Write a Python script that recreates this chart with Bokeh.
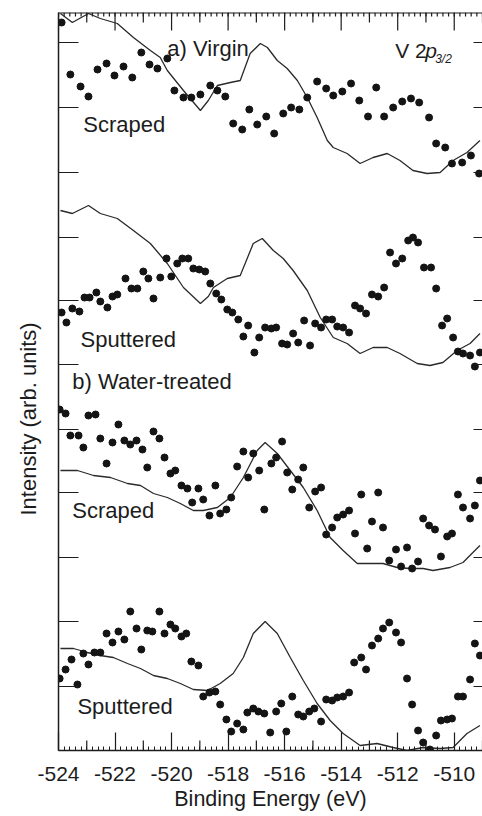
import numpy as np
from bokeh.plotting import figure
from bokeh.models import Range1d, LinearAxis, FixedTicker, Label, Title, Span
from bokeh.embed import file_html
from bokeh.resources import INLINE

# ---------------- data (binding energy in eV, intensity in arb. units, offset per spectrum) -------------
# a) Virgin, Scraped : measured points
a_scr_x = [-523.89, -523.58, -523.22, -522.94, -522.62, -522.30, -522.02, -521.70, -521.39, -521.07,
           -520.78, -520.50, -520.15, -519.90, -519.58, -519.30, -518.98, -518.63, -518.38, -518.10,
           -517.82, -517.50, -517.25, -516.97, -516.65, -516.37, -516.05, -515.77, -515.48, -515.20,
           -514.85, -514.53, -514.28, -513.96, -513.65, -513.36, -513.05, -512.76, -512.48, -512.16,
           -511.84, -511.53, -511.24, -510.89, -510.64, -510.32, -510.08, -509.72, -509.41, -509.12]
a_scr_y = [728, 676, 664, 654, 681, 687, 675, 684, 673, 698,
           686, 682, 692, 660, 653, 653, 656, 665, 660, 654,
           627, 621, 641, 626, 634, 617, 637, 643, 641, 653,
           669, 662, 655, 659, 667, 650, 634, 663, 634, 643,
           649, 652, 648, 633, 607, 603, 587, 588, 595, 577]
# a) Virgin, Scraped : reference curve
a_scr_ref_x = [-523.93, -523.51, -522.94, -522.52, -521.92, -521.35, -520.75, -520.40, -520.15, -519.58,
               -518.98, -518.70, -518.38, -517.92, -517.57, -517.22, -516.86, -516.61, -516.26, -515.91,
               -515.55, -515.20, -514.85, -514.49, -514.28, -513.79, -513.33, -512.87, -512.37, -511.92,
               -511.46, -510.96, -510.50, -510.04, -509.55, -509.09]
a_scr_ref_y = [737, 728, 737, 732, 727, 713, 700, 693, 680, 660,
               640, 650, 665, 668, 670, 697, 707, 703, 690, 682,
               670, 653, 633, 610, 603, 597, 587, 593, 597, 590,
               580, 577, 578, 590, 598, 610]

# a) Virgin, Sputtered : measured points
a_sput_x = [-523.89, -523.72, -523.51, -523.26, -523.08, -522.90, -522.66, -522.52, -522.27, -522.09,
            -521.92, -521.63, -521.42, -521.21, -521.00, -520.82, -520.64, -520.40, -520.18, -520.01,
            -519.80, -519.62, -519.41, -519.23, -519.02, -518.81, -518.63, -518.42, -518.24, -518.03,
            -517.85, -517.64, -517.46, -517.29, -517.07, -516.90, -516.69, -516.47, -516.30, -516.09,
            -515.91, -515.70, -515.52, -515.31, -515.10, -514.92, -514.71, -514.53, -514.32, -514.14,
            -513.93, -513.72, -513.51, -513.33, -513.12, -512.91, -512.69, -512.48, -512.27, -512.06,
            -511.84, -511.63, -511.46, -511.28, -511.07, -510.82, -510.64, -510.43, -510.25, -510.04,
            -509.87, -509.69, -509.44, -509.27, -509.09]
a_sput_y = [438, 428, 442, 439, 453, 453, 458, 449, 443, 454,
            456, 472, 462, 462, 479, 472, 452, 473, 492, 474,
            487, 492, 492, 482, 481, 479, 467, 457, 451, 441,
            438, 431, 414, 425, 398, 413, 423, 422, 423, 407,
            406, 417, 408, 430, 405, 427, 423, 431, 431, 424,
            423, 418, 445, 442, 437, 456, 454, 463, 498, 487,
            492, 510, 513, 508, 483, 483, 462, 425, 432, 413,
            399, 397, 395, 384, 398]
a_sput_ref_x = [-523.93, -523.51, -522.94, -522.52, -521.92, -521.35, -520.75, -520.15, -519.58, -518.98,
                -518.70, -518.52, -518.03, -517.57, -517.11, -516.79, -516.40, -516.05, -515.70, -515.20,
                -514.74, -514.28, -513.79, -513.33, -512.87, -512.37, -511.92, -511.31, -510.86, -510.40,
                -509.90, -509.44, -509.09]
a_sput_ref_y = [540, 537, 545, 537, 532, 520, 507, 487, 463, 447,
                454, 463, 472, 475, 507, 512, 500, 492, 480, 460,
                433, 413, 407, 397, 403, 403, 397, 387, 385, 388,
                400, 407, 417]

# b) Water-treated, Scraped
b_scr_x = [-523.96, -523.75, -523.58, -523.29, -523.12, -522.94, -522.69, -522.52, -522.30, -522.09,
           -521.88, -521.67, -521.46, -521.24, -521.03, -520.86, -520.64, -520.43, -520.25, -520.04,
           -519.87, -519.65, -519.44, -519.27, -519.05, -518.88, -518.66, -518.45, -518.28, -518.06,
           -517.89, -517.68, -517.46, -517.29, -517.11, -516.90, -516.72, -516.47, -516.30, -516.09,
           -515.91, -515.73, -515.52, -515.34, -515.13, -514.92, -514.71, -514.53, -514.32, -514.14,
           -513.93, -513.72, -513.51, -513.29, -513.08, -512.91, -512.69, -512.52, -512.30, -512.06,
           -511.88, -511.67, -511.49, -511.28, -511.10, -510.89, -510.68, -510.47, -510.25, -510.08,
           -509.87, -509.69, -509.44, -509.27, -509.09]
b_scr_y = [341, 337, 315, 315, 303, 335, 336, 312, 287, 308,
           326, 310, 306, 310, 301, 283, 319, 312, 293, 277,
           280, 265, 262, 248, 262, 251, 235, 265, 237, 241,
           253, 284, 299, 273, 297, 280, 241, 287, 293, 309,
           278, 261, 271, 283, 243, 259, 263, 216, 223, 233,
           236, 240, 217, 256, 202, 229, 258, 223, 190, 201,
           184, 203, 182, 189, 232, 225, 221, 194, 214, 217,
           256, 243, 232, 245, 270]
b_scr_ref_x = [-523.93, -523.33, -522.76, -522.16, -521.56, -521.10, -520.64, -520.15, -519.69, -519.23,
               -518.88, -518.38, -517.92, -517.46, -516.97, -516.69, -516.26, -515.80, -515.34, -514.85,
               -514.39, -513.93, -513.43, -512.98, -512.52, -512.02, -511.56, -511.10, -510.75, -510.15,
               -509.69, -509.34, -509.09]
b_scr_ref_y = [280, 280, 275, 273, 267, 265, 257, 253, 247, 240,
               240, 243, 253, 273, 300, 308, 297, 280, 263, 240,
               213, 200, 187, 187, 187, 183, 182, 182, 180, 183,
               188, 198, 205]

# b) Water-treated, Sputtered
b_sput_x = [-523.96, -523.75, -523.54, -523.33, -523.12, -522.94, -522.73, -522.52, -522.30, -522.09,
            -521.88, -521.67, -521.46, -521.24, -521.07, -520.86, -520.68, -520.43, -520.25, -520.04,
            -519.87, -519.65, -519.48, -519.30, -519.05, -518.88, -518.66, -518.45, -518.28, -518.06,
            -517.89, -517.68, -517.46, -517.32, -517.11, -516.93, -516.72, -516.51, -516.30, -516.12,
            -515.94, -515.73, -515.52, -515.34, -515.13, -514.95, -514.71, -514.53, -514.32, -514.14,
            -513.93, -513.72, -513.54, -513.29, -513.12, -512.91, -512.69, -512.52, -512.30, -512.06,
            -511.88, -511.67, -511.49, -511.28, -511.10, -510.86, -510.64, -510.47, -510.25, -510.08,
            -509.87, -509.69, -509.44, -509.27, -509.09]
b_sput_y = [72, 81, 91, 66, 97, 86, 98, 98, 117, 108,
            119, 111, 139, 122, 101, 120, 119, 139, 117, 126,
            122, 114, 117, 89, 85, 54, 58, 59, 46, 31,
            19, 27, 21, 38, 42, 39, 37, 18, 39, 47,
            19, 54, 36, 34, 39, 42, 29, 51, 50, 53,
            54, 58, 88, 93, 81, 105, 112, 122, 128, 118,
            108, 72, 46, 20, 8, 1, 15, 30, 31, 32,
            54, 54, 71, 107, 95]
b_sput_ref_x = [-523.93, -523.47, -522.98, -522.52, -522.06, -521.56, -521.10, -520.64, -520.15, -519.69,
                -519.23, -518.73, -518.28, -517.82, -517.46, -517.11, -516.69, -516.26, -515.80, -515.34,
                -514.85, -514.39, -513.93, -513.33, -512.73, -512.16, -511.67, -511.10, -510.50, -510.04,
                -509.55, -509.09]
b_sput_ref_y = [102, 102, 98, 95, 93, 87, 82, 75, 72, 67,
                61, 60, 67, 77, 93, 117, 129, 117, 93, 70,
                47, 30, 17, 5, 7, 3, 0, 3, 2, 3,
                17, 25]

# axis ticks
x_major = [-524, -522, -520, -518, -516, -514, -512, -510]
x_medium = [-523, -521, -519, -517, -515, -513, -511, -509]
x_minor = [float(round(v, 1)) for v in np.arange(-524, -508.95, 0.2)]
y_ticks = [64, 129, 193, 258, 321, 386, 450, 513, 578, 643, 708]
Y_MAX = 738
MAJ_TICK, MED_TICK, MIN_TICK = 18, 10, 4   # tick lengths (1 intensity unit = 1 px)

# annotations: (text, x, y)
labels = [("a) Virgin", -520.15, 702), ("Scraped", -523.12, 626), ("Sputtered", -523.22, 411),
          ("b) Water-treated", -523.51, 369), ("Scraped", -523.51, 240), ("Sputtered", -523.33, 44)]
species_pos = (-512.09, 700)

# ---------------- figure ----------------
FONT = "Liberation Sans"
INK = "#1c1c1c"

p = figure(width=482, height=816, output_backend="svg", toolbar_location=None,
           x_range=Range1d(-524, -509), y_range=Range1d(0, Y_MAX),
           x_axis_location=None, y_axis_location=None,
           min_border_left=58, min_border_right=0, min_border_top=12, min_border_bottom=66)
p.outline_line_color = None
p.background_fill_color = "white"
p.border_fill_color = "white"
p.grid.visible = False


def style_axis(ax, tick_in, minor_in=0, labels=False):
    ax.axis_line_color = INK
    ax.axis_line_width = 1.5
    ax.major_tick_in = tick_in
    ax.major_tick_out = 0
    ax.major_tick_line_color = INK
    ax.major_tick_line_width = 1.2
    ax.minor_tick_in = minor_in
    ax.minor_tick_out = 0
    ax.minor_tick_line_color = INK if minor_in else None
    if labels:
        ax.major_label_standoff = 16
        ax.major_label_text_font = FONT
        ax.major_label_text_font_size = "21px"
        ax.major_label_text_color = INK
        ax.major_label_overrides = {t: str(t) for t in x_major}
    else:
        ax.major_label_standoff = 0
        ax.major_label_text_font_size = "1px"
        ax.major_label_text_color = None


xb = LinearAxis(ticker=FixedTicker(ticks=x_major, minor_ticks=x_minor))
style_axis(xb, MAJ_TICK, MIN_TICK, labels=True)
xb.axis_label = "Binding Energy (eV)"
xb.axis_label_text_font = FONT
xb.axis_label_text_font_size = "21.5px"
xb.axis_label_text_font_style = "normal"
xb.axis_label_text_color = INK
xb.axis_label_standoff = 3
p.add_layout(xb, "below")

yl = LinearAxis(ticker=FixedTicker(ticks=y_ticks, minor_ticks=[]))
style_axis(yl, 20)
p.add_layout(yl, "left")

yr = LinearAxis(ticker=FixedTicker(ticks=y_ticks, minor_ticks=[]))
style_axis(yr, 9)
yr.axis_line_color = None
p.add_layout(yr, "right")

ytitle = Title(text="Intensity (arb. units)", align="left", vertical_align="top",
               text_font=FONT, text_font_size="22px", text_font_style="normal",
               text_color=INK, offset=235, standoff=31)
p.add_layout(ytitle, "left")

# top frame edge with its tick marks (major / medium / minor)
p.add_layout(Span(location=Y_MAX, dimension="width", line_color=INK, line_width=2))
for ticks, length in [(x_major, MAJ_TICK), (x_medium, MED_TICK), (x_minor, MIN_TICK)]:
    p.segment(x0=ticks, y0=[Y_MAX] * len(ticks), x1=ticks, y1=[Y_MAX - length] * len(ticks),
              line_color=INK, line_width=1.2)
# medium (1 eV) tick marks on the bottom edge
p.segment(x0=x_medium, y0=[0] * len(x_medium), x1=x_medium, y1=[MED_TICK] * len(x_medium),
          line_color=INK, line_width=1.2)

# spectra
for rx, ry, mx, my in [(a_scr_ref_x, a_scr_ref_y, a_scr_x, a_scr_y),
                       (a_sput_ref_x, a_sput_ref_y, a_sput_x, a_sput_y),
                       (b_scr_ref_x, b_scr_ref_y, b_scr_x, b_scr_y),
                       (b_sput_ref_x, b_sput_ref_y, b_sput_x, b_sput_y)]:
    p.line(rx, ry, line_color="#2a2a2a", line_width=1.3)
    p.scatter(mx, my, size=7, fill_color="#141414", line_color="#141414")

for txt, lx, ly in labels:
    p.add_layout(Label(x=lx, y=ly, text=txt, text_font=FONT, text_font_size="22px",
                       text_color=INK, text_baseline="alphabetic"))

sx, sy = species_pos
p.add_layout(Label(x=sx, y=sy, text="V 2", text_font=FONT, text_font_size="21px",
                   text_color=INK, text_baseline="alphabetic"))
p.add_layout(Label(x=sx, y=sy, x_offset=30, text="p", text_font=FONT, text_font_size="21px",
                   text_font_style="italic", text_color=INK, text_baseline="alphabetic"))
p.add_layout(Label(x=sx, y=sy, x_offset=40, y_offset=-8, text="3/2", text_font=FONT,
                   text_font_size="12px", text_font_style="italic", text_color=INK,
                   text_baseline="alphabetic"))

open("out.html", "w").write(file_html(p, INLINE))
